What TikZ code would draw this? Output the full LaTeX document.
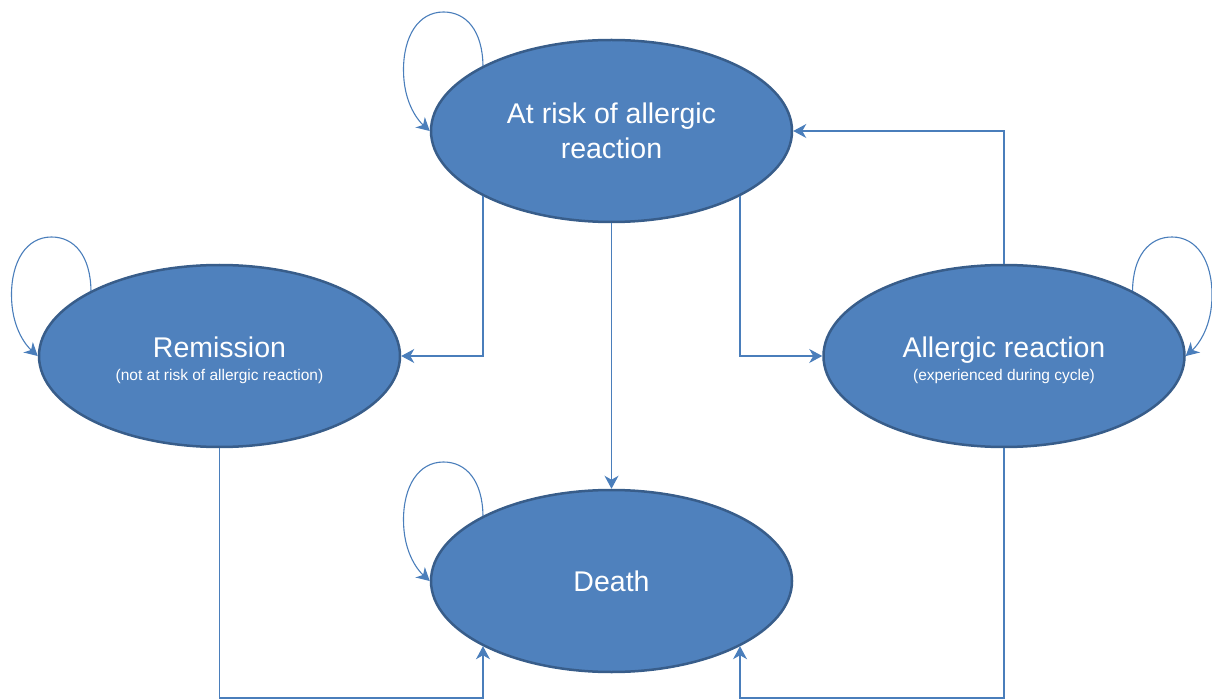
\documentclass[tikz,border=0pt]{standalone}
\usepackage{fontspec}
\setmainfont{Liberation Sans}
\usetikzlibrary{shapes.geometric, arrows.meta}
\definecolor{statefill}{HTML}{4F81BD}
\definecolor{stateline}{HTML}{385D8A}
\definecolor{linkline}{HTML}{4A7EBB}
\tikzstyle{state}=[ellipse, draw=stateline, line width=2.5pt, fill=statefill, text=white,
  minimum width=361pt, minimum height=182pt, inner sep=0pt, align=center,
  font=\fontsize{28.5}{35}\selectfont]
\tikzstyle{link}=[draw=linkline, line width=1.1pt,
  -{Stealth[length=13pt, width=14pt, inset=4pt]}]
\newcommand{\subtext}[1]{\rule{0pt}{29pt}\\[-12pt]{\fontsize{15.5}{18}\selectfont #1}}
% loop from #3 back to #4 of node #1, mirrored when #2 is -1
\newcommand{\selfloop}[4]{%
  \begin{scope}[shift={(#1.center)}, xscale=#2]
    \draw[link] (#1.#3) .. controls (-129,-100) and (-145,-119) .. (-168,-119)
      .. controls (-193,-119) and (-208,-95) .. (-208,-61)
      .. controls (-208,-30) and (-195,-12) .. (#1.#4);
  \end{scope}}

\begin{document}
\begin{tikzpicture}[x=1pt, y=-1pt]
\useasboundingbox (0,0) rectangle (1212,700);
% States
    \node[state] (risk) at (611.5,131) {At risk of allergic\\reaction};
    \node[state] (remission) at (219.5,356) {Remission\subtext{(not at risk of allergic reaction)}};
    \node[state] (reaction) at (1004,356) {Allergic reaction\subtext{(experienced during cycle)}};
    \node[state] (death) at (611.5,581) {Death};
    \coordinate (bottom) at (0,698);
% Self loops
    \selfloop{risk}{1}{north west}{west}
    \selfloop{remission}{1}{north west}{west}
    \selfloop{reaction}{-1}{north east}{east}
    \selfloop{death}{1}{north west}{west}
% Transitions
    \draw[link] (risk.south west) |- (remission.east);
    \draw[link] (risk.south east) |- (reaction.west);
    \draw[link] (risk.south) -- (death.north);
    \draw[link] (reaction.north) |- (risk.east);
    \draw[link] (remission.south) -- (remission.south |- bottom) -| (death.south west);
    \draw[link] (reaction.south) -- (reaction.south |- bottom) -| (death.south east);
\end{tikzpicture}
\end{document}
